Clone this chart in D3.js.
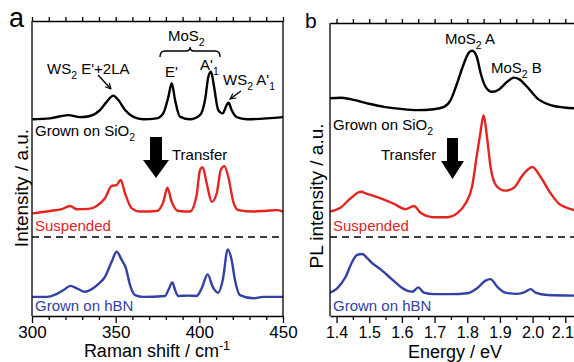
<!DOCTYPE html>
<html>
<head>
<meta charset="utf-8">
<script src="https://cdn.jsdelivr.net/npm/d3@7"></script>
<style>
  body { margin: 0; background: #fff; }
  text { font-family: "Liberation Sans", Arial, Helvetica, sans-serif; }
</style>
</head>
<body>
<svg id="chart" width="574" height="362"></svg>
<script>
// ---- data: [x, intensity (a.u.)] ----
// panel a: Raman shift (cm-1)
const ramanSiO2 = [[300.2,66.7],[310.8,67.0],[321.7,68.1],[328.7,67.4],[334.7,67.8],[340.6,69.8],[344.6,72.6],[348.6,74.7],[351.6,73.2],[355.6,69.8],[360.6,67.5],[366.5,66.7],[374.5,67.0],[378.5,68.8],[381.5,74.3],[383.5,78.9],[385.5,73.2],[388.4,67.6],[394.4,66.7],[400.4,68.1],[403.4,73.2],[405.4,81.1],[407,82.8],[408.8,77.7],[411.3,69.8],[414,68.7],[416.3,71.5],[417.5,72.3],[419.3,69.8],[422.3,67.4],[428.3,66.7],[450,67.4]];
const ramanSuspended = [[300.2,34.8],[310.8,35.6],[317.7,36.2],[322.7,37.3],[326.7,36.2],[333.7,36.3],[338.7,37.3],[343.6,39.9],[347.6,44.1],[350.6,44.4],[353,46.1],[355.6,41.6],[359.6,36.5],[364.5,35.4],[374.5,35.6],[378.5,38.7],[380.9,43.5],[383.5,38.7],[387.4,35.6],[394.4,35.4],[398.4,41.0],[400.4,49.5],[402,50.4],[404.4,45.0],[407.4,38.7],[410.4,41.6],[412.8,49.5],[414.9,50.8],[417.3,47.2],[420.3,38.7],[423.3,35.9],[432.3,35.4],[440.2,35.7],[446.2,35.9],[450,35.4]];
const ramanHBN = [[300.2,6.5],[309,6.5],[314.9,7.5],[318.9,8.8],[322.9,10.2],[326.7,9.4],[331.7,8.2],[335.7,9.1],[339.6,10.8],[343.6,13.3],[347.6,18.4],[350.6,21.8],[353.6,19.0],[356.1,16.2],[358.6,10.5],[361.6,7.1],[366.5,6.5],[379.5,6.8],[381.5,8.8],[383.9,11.4],[385.5,8.8],[387.4,6.8],[393.4,6.9],[398.4,6.8],[401.4,9.4],[405,14.1],[408,9.9],[411.3,7.9],[414,12.2],[417,22.6],[419.3,19.0],[421.3,12.2],[424.3,7.1],[432.3,6.0],[438.2,6.5],[450,6.5]];

// panel b: PL energy (eV)
const plSiO2 = [[1.379,73.8],[1.413,74.0],[1.443,73.5],[1.494,72.1],[1.545,70.9],[1.596,70.2],[1.647,69.8],[1.698,70.1],[1.729,70.9],[1.749,73.2],[1.769,78.9],[1.790,85.7],[1.805,89.3],[1.815,89.9],[1.829,87.9],[1.841,82.3],[1.856,77.7],[1.876,76.0],[1.897,76.8],[1.922,79.4],[1.943,80.8],[1.958,80.3],[1.983,77.7],[2.014,73.8],[2.055,71.5],[2.096,70.7],[2.148,70.3]];
const plSuspended = [[1.379,35.4],[1.413,36.8],[1.443,39.9],[1.474,42.1],[1.494,41.4],[1.535,39.9],[1.576,38.0],[1.612,36.2],[1.637,37.3],[1.657,35.0],[1.698,33.5],[1.739,33.5],[1.769,34.8],[1.795,38.2],[1.815,44.0],[1.830,55.0],[1.840,62.0],[1.850,68.1],[1.860,61.0],[1.872,50.0],[1.890,44.0],[1.915,42.5],[1.943,43.5],[1.968,47.5],[1.999,50.5],[2.024,47.2],[2.055,41.6],[2.086,37.6],[2.148,35.5]];
const plHBN = [[1.379,7.9],[1.402,9.4],[1.428,13.3],[1.448,18.4],[1.463,20.7],[1.479,21.0],[1.494,19.6],[1.509,17.9],[1.535,15.8],[1.555,13.9],[1.581,11.3],[1.606,9.1],[1.632,8.2],[1.650,9.7],[1.667,7.9],[1.698,7.4],[1.749,7.4],[1.800,7.7],[1.830,9.4],[1.856,12.0],[1.871,12.5],[1.892,9.9],[1.917,7.9],[1.953,7.5],[1.978,8.2],[1.994,9.1],[2.009,7.9],[2.045,7.1],[2.148,6.9]];

// ticks
const ramanTicks = d3.range(300, 451, 10);
const ramanTickLabels = [300, 350, 400, 450];
const plTicks = d3.range(28, 44).map(i => i * 0.05);
const plTickLabels = ["1.4", "1.5", "1.6", "1.7", "1.8", "1.9", "2.0", "2.1"];

const separatorLevel = 26.8;   // dashed line between suspended and hBN traces

const RED = "#e3241f", BLUE = "#3241a3";

const svg = d3.select("#chart");

// scales
const xRaman = d3.scaleLinear().domain([300, 450]).range([32, 283]);
const xPL = d3.scaleLinear().domain([1.38, 2.148]).range([330, 581]);
const y = d3.scaleLinear().domain([0, 100]).range([316, 21]);

const line = xs => d3.line().x(d => xs(d[0])).y(d => y(d[1])).curve(d3.curveMonotoneX);

// small helper for text with sub/superscripts
function label(g, x, yy, parts, opts = {}) {
  const size = opts.size || 15;
  const t = g.append("text")
    .attr("x", x).attr("y", yy)
    .attr("fill", opts.color || "#000")
    .attr("text-anchor", opts.anchor || "start")
    .style("font-size", size + "px");
  let shift = 0;
  parts.forEach(p => {
    let target = 0, txt = p, small = false;
    if (typeof p !== "string") {
      small = true;
      txt = p.sub !== undefined ? p.sub : p.sup;
      target = p.sub !== undefined ? size * 0.3 : -size * 0.4;
    }
    const ts = t.append("tspan").text(txt).attr("dy", target - shift);
    if (small) ts.style("font-size", (size * 0.7) + "px");
    shift = target;
  });
  return t;
}

svg.append("defs").append("marker")
  .attr("id", "head").attr("viewBox", "0 0 10 10")
  .attr("refX", 9).attr("refY", 5)
  .attr("markerWidth", 7).attr("markerHeight", 7)
  .attr("markerUnits", "userSpaceOnUse")
  .attr("orient", "auto")
  .append("path").attr("d", "M1,1 L9,5 L1,9").attr("fill", "none")
  .attr("stroke", "#000").attr("stroke-width", 1.6);

function panel(xs, ticks, isLabel, top, opts) {
  const g = svg.append("g");
  const [x0, x1] = xs.range();
  const clipId = "clip" + opts.id;
  svg.select("defs").append("clipPath").attr("id", clipId)
    .append("rect").attr("x", x0).attr("y", top).attr("width", x1 - x0).attr("height", 316 - top);

  // curves
  const curves = g.append("g").attr("clip-path", `url(#${clipId})`);
  opts.series.forEach(s => {
    curves.append("path").datum(s.data)
      .attr("d", line(xs))
      .attr("fill", "none")
      .attr("stroke", s.color)
      .attr("stroke-width", 2.4)
      .attr("stroke-linejoin", "round");
  });

  // dashed separator
  g.append("line")
    .attr("x1", x0).attr("x2", x1)
    .attr("y1", y(separatorLevel)).attr("y2", y(separatorLevel))
    .attr("stroke", "#000").attr("stroke-width", 1.5)
    .attr("stroke-dasharray", "7,5");

  // axes (bottom: long major / short minor ticks, top: short ticks)
  const pad = Math.round(18 - 0.71 * opts.fontSize);
  const bottom = g.append("g").attr("transform", "translate(0,316)")
    .call(d3.axisBottom(xs).tickValues(ticks).tickSize(4).tickSizeOuter(0).tickPadding(pad)
      .tickFormat(d => isLabel(d) ? opts.fmt(d) : ""));
  bottom.selectAll(".tick").filter(d => isLabel(d)).select("line").attr("y2", 7);
  const topAx = g.append("g").attr("transform", `translate(0,${top})`)
    .call(d3.axisTop(xs).tickValues(ticks).tickSize(4).tickSizeOuter(0).tickFormat(""));
  [bottom, topAx].forEach(a => {
    a.selectAll("path, line").attr("stroke", "#000").attr("stroke-width", 1.3);
    a.selectAll("text").style("font-size", opts.fontSize + "px").attr("fill", "#000")
      .style("font-family", '"Liberation Sans", Arial, sans-serif');
  });
  if (opts.lastDx) bottom.selectAll("text").filter(d => isLabel(d) && Math.abs(d - opts.lastTick) < 1e-6)
    .attr("dx", opts.lastDx);
  g.append("line").attr("x1", x0).attr("x2", x0).attr("y1", top).attr("y2", 316)
    .attr("stroke", "#000").attr("stroke-width", 1.3);
  g.append("line").attr("x1", x1).attr("x2", x1).attr("y1", top).attr("y2", 316)
    .attr("stroke", "#000").attr("stroke-width", 1.3);
  return g;
}

// ---- panel a ----
const ga = panel(xRaman, ramanTicks, d => ramanTickLabels.includes(d), 21, {
  id: "a",
  fontSize: 17,
  fmt: d => d,
  series: [
    { data: ramanSiO2, color: "#000" },
    { data: ramanSuspended, color: RED },
    { data: ramanHBN, color: BLUE }
  ]
});

// ---- panel b ----
const gb = panel(xPL, plTicks, d => Math.abs(d * 10 - Math.round(d * 10)) < 1e-6, 23, {
  id: "b",
  fontSize: 16,
  lastTick: 2.1, lastDx: -3,
  fmt: d => plTickLabels[Math.round(d * 10) - 14],
  series: [
    { data: plSiO2, color: "#000" },
    { data: plSuspended, color: RED },
    { data: plHBN, color: BLUE }
  ]
});

// panel letters
svg.append("text").attr("x", 9).attr("y", 27).style("font-size", "27px").text("a");
svg.append("text").attr("x", 305).attr("y", 28).style("font-size", "21px").text("b");

// axis titles
label(svg, 157, 357, ["Raman shift / cm", { sup: "-1" }], { size: 18, anchor: "middle" });
label(svg, 455, 358, ["Energy / eV"], { size: 18, anchor: "middle" });
svg.append("text").attr("transform", "translate(28,188) rotate(-90)")
  .attr("text-anchor", "middle").style("font-size", "19px").text("Intensity / a.u.");
svg.append("text").attr("transform", "translate(323,196) rotate(-90)")
  .attr("text-anchor", "middle").style("font-size", "19px").text("PL intensity / a.u.");

// ---- annotations panel a ----
label(ga, 47, 74, ["WS", { sub: "2" }, " E'+2LA"]);
label(ga, 168, 41, ["MoS", { sub: "2" }]);
label(ga, 165, 77, ["E'"]);
label(ga, 200, 70, ["A'", { sub: "1" }]);
label(ga, 223, 85, ["WS", { sub: "2" }, " A'", { sub: "1" }]);

const bx0 = xRaman(376.5), bx1 = xRaman(412.4), bxm = (bx0 + bx1) / 2;
ga.append("path")
  .attr("d", `M${bx0},57 Q${bx0},51 ${bx0 + 5},51 L${bxm - 4},51 Q${bxm},51 ${bxm},47 Q${bxm},51 ${bxm + 4},51 L${bx1 - 5},51 Q${bx1},51 ${bx1},57`)
  .attr("fill", "none").attr("stroke", "#000").attr("stroke-width", 1.4);

ga.append("line").attr("x1", 98).attr("y1", 75).attr("x2", 111).attr("y2", 89)
  .attr("stroke", "#000").attr("stroke-width", 1.4).attr("marker-end", "url(#head)");
ga.append("line").attr("x1", 241).attr("y1", 91).attr("x2", 230).attr("y2", 99)
  .attr("stroke", "#000").attr("stroke-width", 1.4).attr("marker-end", "url(#head)");

label(ga, 35, 136, ["Grown on SiO", { sub: "2" }]);
label(ga, 172, 160, ["Transfer"]);
label(ga, 35, 231, ["Suspended"], { color: RED });
label(ga, 35, 311, ["Grown on hBN"], { color: BLUE });

// ---- annotations panel b ----
label(gb, 445, 44, ["MoS", { sub: "2" }, " A"]);
label(gb, 491, 73, ["MoS", { sub: "2" }, " B"]);
label(gb, 333, 130, ["Grown on SiO", { sub: "2" }]);
label(gb, 381, 160, ["Transfer"]);
label(gb, 333, 231, ["Suspended"], { color: RED });
label(gb, 333, 311, ["Grown on hBN"], { color: BLUE });

// block "transfer" arrows
function blockArrow(g, cx, top, half, headHalf) {
  g.append("path")
    .attr("d", `M${cx - half},${top} L${cx + half},${top} L${cx + half},${top + 23} L${cx + headHalf},${top + 23} L${cx},${top + 41} L${cx - headHalf},${top + 23} L${cx - half},${top + 23} Z`)
    .attr("fill", "#000");
}
blockArrow(ga, 156, 137, 6, 13);
blockArrow(gb, 452.5, 138, 5.5, 11.5);
</script>
</body>
</html>
